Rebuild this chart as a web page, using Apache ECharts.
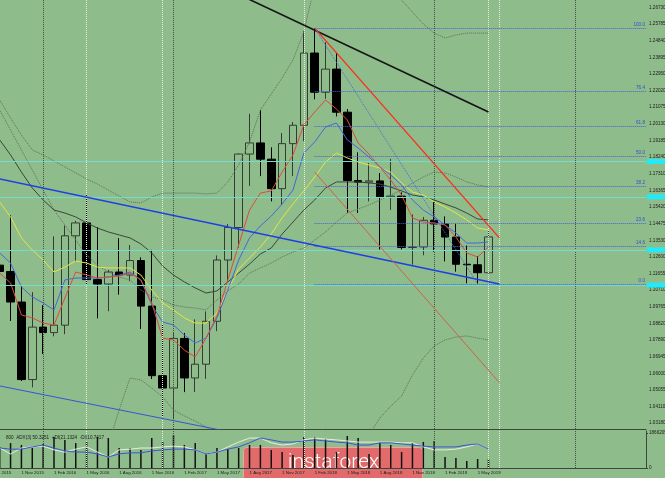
<!DOCTYPE html>
<html><head><meta charset="utf-8">
<script src="https://cdn.jsdelivr.net/npm/echarts@6/dist/echarts.min.js"></script>
<style>html,body{margin:0;padding:0;background:#8fbc8b;overflow:hidden}#c{width:665px;height:478px}</style>
</head><body><div id="c"></div>
<script>
// ---- categories (monthly bars) ----
const months = ['2015-08','2015-09','2015-10','2015-11','2015-12',
'2016-01','2016-02','2016-03','2016-04','2016-05','2016-06','2016-07','2016-08','2016-09','2016-10','2016-11','2016-12',
'2017-01','2017-02','2017-03','2017-04','2017-05','2017-06','2017-07','2017-08','2017-09','2017-10','2017-11','2017-12',
'2018-01','2018-02','2018-03','2018-04','2018-05','2018-06','2018-07','2018-08','2018-09','2018-10','2018-11','2018-12',
'2019-01','2019-02','2019-03','2019-04','2019-05','2019-06','2019-07','2019-08','2019-09','2019-10','2019-11','2019-12',
'2020-01','2020-02','2020-03','2020-04','2020-05','2020-06','2020-07','2020-08'];
const monthNames = ['Jan','Feb','Mar','Apr','May','Jun','Jul','Aug','Sep','Oct','Nov','Dec'];
const lastBarMonth = '2019-06';

// ---- candles ----
const open  = [1.0985,1.1213,1.1177,1.1004,1.0565,1.0862,1.0831,1.0873,1.1379,1.1452,1.1131,1.1106,1.1174,1.1157,1.1239,1.0981,1.0587,1.0517,1.0798,1.0574,1.0652,1.0895,1.1242,1.1426,1.1842,1.1905,1.1813,1.1646,1.1901,1.2005,1.2414,1.2192,1.2323,1.2079,1.1692,1.1683,1.1690,1.1599,1.1604,1.1313,1.1316,1.1467,1.1446,1.1372,1.1218,1.1215,1.1170];
const close = [1.1213,1.1177,1.1004,1.0565,1.0862,1.0831,1.0873,1.1379,1.1452,1.1131,1.1106,1.1174,1.1157,1.1239,1.0981,1.0587,1.0517,1.0798,1.0574,1.0652,1.0895,1.1242,1.1426,1.1842,1.1905,1.1813,1.1646,1.1901,1.2005,1.2414,1.2192,1.2323,1.2079,1.1692,1.1683,1.1690,1.1599,1.1604,1.1313,1.1316,1.1467,1.1446,1.1372,1.1218,1.1215,1.1170,1.1373];
const low   = [1.0808,1.1087,1.0897,1.0557,1.0521,1.0710,1.0810,1.0822,1.1234,1.1098,1.0912,1.0952,1.1046,1.1122,1.0852,1.0568,1.0352,1.0340,1.0494,1.0495,1.0569,1.0839,1.1118,1.1312,1.1662,1.1717,1.1574,1.1554,1.1718,1.1915,1.2152,1.2155,1.2055,1.1510,1.1508,1.1574,1.1301,1.1526,1.1302,1.1216,1.1269,1.1289,1.1234,1.1176,1.1110,1.1107,1.1165];
const high  = [1.1714,1.1460,1.1495,1.1095,1.1060,1.0986,1.1376,1.1437,1.1464,1.1616,1.1428,1.1186,1.1366,1.1327,1.1257,1.1300,1.0874,1.0829,1.0829,1.0906,1.0951,1.1268,1.1446,1.1846,1.2070,1.2092,1.1880,1.1961,1.2023,1.2537,1.2555,1.2476,1.2414,1.2097,1.1852,1.1791,1.1734,1.1815,1.1625,1.1500,1.1486,1.1570,1.1489,1.1448,1.1324,1.1264,1.1412];

// ---- overlay lines ----
const maRed    = [1.1214,1.1168,1.1112,1.0931,1.0914,1.0885,1.0874,1.1027,1.1174,1.1157,1.1140,1.1146,1.1151,1.1168,1.1129,1.0999,1.0800,1.0789,1.0732,1.0693,1.0800,1.0925,1.1129,1.1327,1.1525,1.1621,1.1633,1.1740,1.1837,1.2007,1.2080,1.2148,1.2097,1.2035,1.1905,1.1842,1.1769,1.1695,1.1610,1.1480,1.1457,1.1452,1.1440,1.1372,1.1282,1.1259,1.1316];
const maBlue   = [1.1327,1.1282,1.1225,1.1089,1.1033,1.0999,1.0959,1.1129,1.1140,1.1140,1.1140,1.1146,1.1157,1.1174,1.1129,1.0987,1.0891,1.0874,1.0817,1.0772,1.0800,1.0914,1.1072,1.1242,1.1367,1.1435,1.1491,1.1559,1.1638,1.1848,1.1910,1.1995,1.2018,1.1922,1.1876,1.1825,1.1769,1.1723,1.1667,1.1582,1.1525,1.1486,1.1440,1.1395,1.1338,1.1338,1.1344];
const maYellow = [1.1638,1.1571,1.1486,1.1367,1.1299,1.1242,1.1174,1.1202,1.1236,1.1225,1.1202,1.1197,1.1197,1.1197,1.1157,1.1072,1.0999,1.0959,1.0914,1.0885,1.0885,1.0942,1.1072,1.1191,1.1253,1.1316,1.1389,1.1480,1.1559,1.1633,1.1712,1.1797,1.1848,1.1820,1.1797,1.1780,1.1763,1.1740,1.1678,1.1627,1.1610,1.1571,1.1542,1.1508,1.1469,1.1423,1.1412];
const maGray   = [1.2007,1.1922,1.1837,1.1740,1.1650,1.1582,1.1525,1.1508,1.1486,1.1452,1.1423,1.1401,1.1384,1.1367,1.1333,1.1282,1.1208,1.1157,1.1118,1.1084,1.1055,1.1067,1.1118,1.1168,1.1219,1.1276,1.1310,1.1389,1.1457,1.1525,1.1582,1.1650,1.1684,1.1684,1.1684,1.1678,1.1672,1.1655,1.1633,1.1610,1.1599,1.1582,1.1559,1.1537,1.1508,1.1474,1.1469];
const bandMid  = [1.2176,1.2091,1.1978,1.1865,1.1752,1.1638,1.1525,1.1440,1.1355,1.1270,1.1214,1.1174,1.1146,1.1129,1.1072,1.1033,1.1016,1.0987,1.0976,1.0970,1.0959,1.1016,1.1067,1.1106,1.1168,1.1197,1.1225,1.1259,1.1287,1.1310,1.1355,1.1401,1.1457,1.1508,1.1531,1.1554,1.1582,1.1610,1.1638,1.1678,1.1712,1.1740,1.1735,1.1712,1.1684,1.1667,1.1655];
const bandUp   = [1.2261,1.2148,1.2046,1.1950,1.1865,1.1837,1.1803,1.1769,1.1735,1.1701,1.1672,1.1638,1.1604,1.1571,1.1565,1.1599,1.1621,1.1621,1.1621,1.1621,1.1616,1.1621,1.1684,1.1780,1.1910,1.2091,1.2182,1.2273,1.2375,1.2533,1.2799,1.2913,1.2969,1.2969,1.2941,1.2884,1.2816,1.2760,1.2714,1.2646,1.2578,1.2527,1.2499,1.2516,1.2527,1.2527,1.2527];
const bandLow  = [0.9770,0.9770,0.9770,0.9798,0.9826,0.9855,0.9883,0.9911,0.9940,0.9996,1.0053,1.0195,1.0393,1.0574,1.0563,1.0517,1.0466,1.0393,1.0359,1.0330,1.0296,1.0262,1.0195,1.0110,1.0025,0.9940,0.9883,0.9855,0.9826,0.9826,0.9855,0.9911,0.9996,1.0081,1.0166,1.0251,1.0347,1.0415,1.0472,1.0591,1.0687,1.0755,1.0789,1.0806,1.0812,1.0800,1.0789];

// ---- drawn objects (month, price) ----
const trendBlack   = [['2017-07',1.2746],['2019-06',1.2080]];
const trendBlue    = [['2015-09',1.1701],['2019-07',1.1106]];
const trendBlueLow = [['2015-09',1.0529],['2017-09',1.0234]];
const trendRed     = [['2018-02',1.2555],['2019-07',1.1367]];
const trendRedThin = [['2018-02',1.1740],['2019-07',1.0548]];
const fibDiagonal  = [['2018-02',1.2555],['2019-05',1.1107]];
const fibStart  = '2018-02';
const fibLevels = ['100.0','76.4','61.8','50.0','38.2','23.6','14.6','0.0'];
const fibPrices = [1.2555,1.2200,1.2002,1.1831,1.1660,1.1449,1.1318,1.1107];
const cyanLevels = [1.18196,1.15761,1.13100,1.11005];
const lastPrice = 1.13731;
const separatorMonths = ['2016-01','2017-01','2018-01','2019-01','2020-02'];
const markerMonths = ['2016-05','2016-12','2018-01','2019-06','2019-07'];

// ---- right axis tick labels ----
const yTicks = [1.26730,1.25785,1.24840,1.23895,1.22950,1.22020,1.21075,1.20130,1.19185,1.18240,1.17310,1.16365,1.15420,1.14475,1.13530,1.12600,1.11655,1.10710,1.09765,1.08820,1.07890,1.06945,1.06000,1.05055,1.04110,1.03180];

// ---- lower pane ----
const volume = [12000000,11200000,13300000,12300000,10700000,12800000,16500000,14900000,13300000,13900000,16500000,16000000,10700000,10700000,9600000,16000000,13900000,17600000,12300000,13300000,8000000,10700000,10100000,10700000,12300000,12300000,9600000,8500000,6900000,16500000,16500000,15500000,8500000,17100000,16000000,7500000,13300000,12300000,8500000,13300000,13900000,14400000,5900000,5300000,3700000,4800000,4800000];
const adxWhite = [50,54,38,54,57,59,49,43,51,57,43,30,49,51,54,54,57,59,57,49,38,43,57,70,81,81,68,62,65,76,81,78,76,73,70,70,70,70,68,68,57,49,49,51,57,65,51];
const adxBlue  = [52,54,51,51,57,62,54,46,43,43,38,30,38,41,41,46,49,51,51,49,38,43,51,57,68,81,76,70,70,73,76,73,70,68,62,62,68,68,65,62,59,57,57,57,62,65,51];
const volTicks = [0,18662055];

const BG = '#8fbc8b', AX = '#3c463c', TXT = '#1a1a1a', FONT = 'Liberation Sans';
const idx = m => months.indexOf(m);
const toXY = arr => arr.map(p => [idx(p[0]), p[1]]);

function maLine(name, data, color, type) {
  return { name, type:'line', xAxisIndex:0, yAxisIndex:0, data, symbol:'none', silent:true, z:4,
    lineStyle:{ color, width:1, type: type || 'solid' } };
}
function trend(name, data, color, width, type) {
  return { name, type:'line', xAxisIndex:2, yAxisIndex:0, data: toXY(data), symbol:'none', silent:true, z:5,
    lineStyle:{ color, width, type: type || 'solid' } };
}
function vLines(list, color, xAxisIndex, yAxisIndex) {
  return { type:'line', xAxisIndex, yAxisIndex, data:[], silent:true, z:1,
    markLine:{ silent:true, symbol:['none','none'], label:{show:false},
      lineStyle:{ color, width:1, type:'dotted' },
      data: list.map(m => ({ xAxis: m })) } };
}

const chart = echarts.init(document.getElementById('c'), null, {renderer:'canvas'});
chart.setOption({
  animation:false,
  backgroundColor: BG,
  title:{ text:'800  ADX(3) 50.3251  +DI(21.1324  -DI(10.7417', left:1, top:430,
    textStyle:{ fontSize:4.6, color:TXT, fontWeight:'normal', fontFamily:FONT } },
  grid:[
    { left:-16.6, right:19, top:0, height:429, containLabel:false, outerBoundsMode:'none' },
    { left:-16.6, right:19, top:431, height:37, containLabel:false, outerBoundsMode:'none' }
  ],
  xAxis:[
    { type:'category', gridIndex:0, data:months, boundaryGap:true,
      axisLine:{ show:true, lineStyle:{ color:AX, width:1 } }, axisTick:{show:false}, axisLabel:{show:false}, splitLine:{show:false} },
    { type:'category', gridIndex:1, data:months, boundaryGap:true,
      axisLine:{ show:true, lineStyle:{ color:AX, width:1 } }, axisTick:{show:false}, splitLine:{show:false},
      axisLabel:{ show:true, align:'left', margin:3, fontSize:4.4, color:TXT, fontFamily:FONT,
        interval:(i, v) => [2,5,8,11].includes(+v.slice(5)) && v <= lastBarMonth,
        formatter: v => '1 ' + monthNames[+v.slice(5)-1] + ' ' + v.slice(0,4) } },
    { type:'value', gridIndex:0, min:-0.5, max:months.length-0.5, show:false }
  ],
  yAxis:[
    { type:'value', gridIndex:0, position:'right', min:1.02851, max:1.27143, scale:true,
      axisLine:{ show:true, lineStyle:{ color:AX, width:1 } },
      axisTick:{ show:true, length:2, customValues:yTicks, lineStyle:{color:AX} },
      axisLabel:{ show:true, customValues:yTicks, formatter: v => v.toFixed(5), fontSize:4.6, color:TXT, margin:3, fontFamily:FONT },
      splitLine:{show:false} },
    { type:'value', gridIndex:1, position:'right', min:0, max:19730000,
      axisLine:{ show:true, lineStyle:{ color:AX, width:1 } },
      axisTick:{ show:true, length:2, customValues:volTicks, lineStyle:{color:AX} },
      axisLabel:{ show:true, customValues:volTicks, formatter: v => String(v), fontSize:4.6, color:TXT, margin:3, fontFamily:FONT },
      splitLine:{show:false} },
    { type:'value', gridIndex:1, min:0, max:100, show:false }
  ],
  graphic:[
    { type:'group', left:243, top:447, z:100, children:[
      { type:'rect', shape:{ x:0, y:0, width:179, height:36, r:3 }, style:{ fill:'#e26a6a', stroke:'#efa3a3', lineWidth:1 } },
      { type:'text', style:{ text:'instaforex', x:90, y:15, align:'center', verticalAlign:'middle', fill:'#ffffff', font:'300 21px Roboto' } }
    ]}
  ],
  series:[
    vLines(separatorMonths, '#44524a', 0, 0),
    vLines(markerMonths, '#e4eee2', 0, 0),
    vLines(separatorMonths, '#44524a', 1, 1),
    vLines(markerMonths, '#e4eee2', 1, 1),
    { name:'price', type:'candlestick', xAxisIndex:0, yAxisIndex:0, barWidth:8, z:3, silent:true,
      data: open.map((o,i) => [o, close[i], low[i], high[i]]),
      itemStyle:{ color:BG, color0:'#000000', borderColor:'#353b35', borderColor0:'#000000', borderWidth:1 } },
    maLine('band upper', bandUp, '#5d6e5b', 'dotted'),
    maLine('band middle', bandMid, '#5d6e5b', 'dotted'),
    maLine('band lower', bandLow, '#5d6e5b', 'dotted'),
    maLine('ma slow', maGray, '#3b463a'),
    maLine('ma yellow', maYellow, '#e6e544'),
    maLine('ma blue', maBlue, '#4466dd'),
    maLine('ma red', maRed, '#dd4b3a'),
    trend('trend black', trendBlack, '#141414', 1.6),
    trend('trend blue', trendBlue, '#1c3fe6', 1.6),
    trend('trend blue low', trendBlueLow, '#3555d8', 1),
    trend('trend red', trendRed, '#ff2a1a', 1.3),
    trend('trend red thin', trendRedThin, '#d2604a', 1),
    trend('fibo diagonal', fibDiagonal, '#4a66d8', 1, 'dotted'),
    { name:'fibo', type:'line', xAxisIndex:2, yAxisIndex:0, data:[], silent:true, z:5,
      markLine:{ silent:true, symbol:['none','none'],
        lineStyle:{ color:'#4460dc', width:1, type:'dotted' },
        label:{ show:true, position:'insideEndTop', formatter:'{b}', color:'#2f4fd0', fontSize:4.6, distance:1, fontFamily:FONT },
        data: fibLevels.map((lv,i) => [ { name:lv, coord:[idx(fibStart), fibPrices[i]] }, { coord:[months.length-0.5, fibPrices[i]] } ]) } },
    { name:'levels', type:'line', xAxisIndex:0, yAxisIndex:0, data:[], silent:true, z:6,
      markLine:{ silent:true, symbol:['none','none'],
        lineStyle:{ color:'#72dccf', width:1, type:'solid' },
        label:{ show:true, position:'end', distance:1, formatter: p => p.value.toFixed(5),
          backgroundColor:'#14f0ff', color:'#5ad6de', fontSize:4.6, padding:[0,3,0,2], lineHeight:5, fontFamily:FONT },
        data: cyanLevels.map(v => ({ yAxis:v })) } },
    { name:'last', type:'line', xAxisIndex:0, yAxisIndex:0, data:[], silent:true, z:7,
      markLine:{ silent:true, symbol:['none','none'],
        lineStyle:{ opacity:0 },
        label:{ show:true, position:'end', distance:1, formatter: p => p.value.toFixed(5),
          backgroundColor:'#000000', color:'#ffffff', fontSize:4.6, padding:[0,3,0,2], lineHeight:5, fontFamily:FONT },
        data: [{ yAxis:lastPrice }] } },
    { name:'volume', type:'bar', xAxisIndex:1, yAxisIndex:1, data:volume, barWidth:1.5, silent:true, z:3,
      itemStyle:{ color:'#111111' } },
    { name:'adx', type:'line', xAxisIndex:1, yAxisIndex:2, data:adxWhite, symbol:'none', silent:true, z:4,
      lineStyle:{ color:'#e6eedf', width:1 } },
    { name:'+di', type:'line', xAxisIndex:1, yAxisIndex:2, data:adxBlue, symbol:'none', silent:true, z:4,
      lineStyle:{ color:'#3a56d6', width:1 } }
  ]
});
</script>
</body></html>
